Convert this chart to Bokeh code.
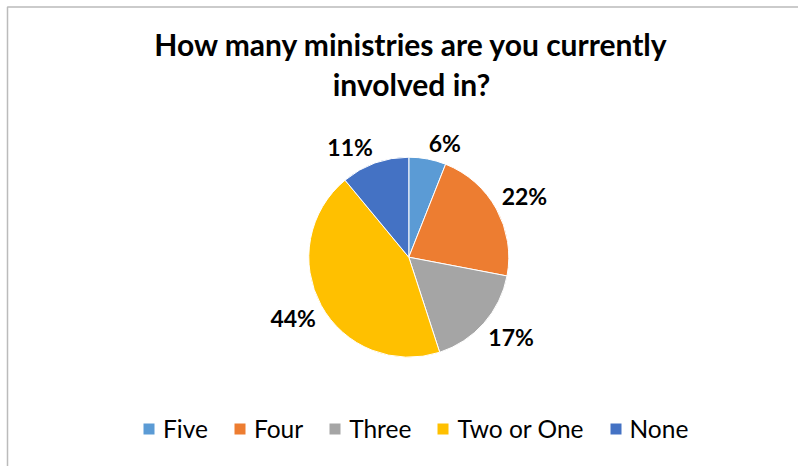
import math
from bokeh.plotting import figure
from bokeh.models import ColumnDataSource, Range1d, Legend, LegendItem
from bokeh.core.properties import value
from bokeh.embed import file_html
from bokeh.resources import INLINE

# ---- data ----
categories = ["Five", "Four", "Three", "Two or One", "None"]
shares = [6, 22, 17, 44, 11]
colors = ["#5B9BD5", "#ED7D31", "#A5A5A5", "#FFC000", "#4472C4"]
title_lines = ["How many ministries are you currently", "involved in?"]

W, H = 798, 466
CX, CY, R = 408.3, H - 256.7, 100.0
FONT = "Lato"

total = float(sum(shares))
starts, ends, mids = [], [], []
acc = 0.0
for v in shares:
    starts.append(acc / total)
    acc += v
    ends.append(acc / total)
    mids.append((starts[-1] + ends[-1]) / 2)

src = ColumnDataSource(dict(
    cat=categories,
    share=shares,
    color=colors,
    start=[math.pi / 2 - f * 2 * math.pi for f in starts],
    end=[math.pi / 2 - f * 2 * math.pi for f in ends],
))

# label positions derived from the slice mid-angles
lx, ly, la, lt = [], [], [], []
for f, v in zip(mids, shares):
    th = f * 2 * math.pi
    s, c = math.sin(th), math.cos(th)
    r = R + 6
    lx.append(CX + r * s)
    ly.append(CY + r * c + (10 if c > 0 else -10))
    la.append("left" if s > 0 else "right")
    lt.append(f"{v}%")
lab = ColumnDataSource(dict(x=lx, y=ly, align=la, text=lt))

p = figure(width=W, height=H, x_range=Range1d(0, W), y_range=Range1d(0, H),
           output_backend="svg", toolbar_location=None,
           x_axis_type=None, y_axis_type=None, min_border=0,
           outline_line_color=None, background_fill_color="white")
p.grid.visible = False

# chart border
p.line(x=[7, 7, W + 5], y=[-5, H - 6.5, H - 6.5], line_color="#BBBBBB", line_width=1.5)

wr = p.wedge(x=CX, y=CY, radius=R, start_angle="start", end_angle="end",
             direction="clock", fill_color="color", line_color="white",
             line_width=1, source=src)

p.text(x="x", y="y", text="text", text_align="align", text_baseline="middle",
       text_font=value(FONT), text_font_style="bold", text_font_size="23px",
       text_color="#000000", source=lab)

# title
p.text(x=[411, 411], y=[H - 43.3, H - 83.3], text=title_lines,
       text_align="center", text_baseline="middle",
       text_font=value(FONT), text_font_style="bold", text_font_size="30px",
       text_color="#000000")

items = [LegendItem(label=cat, renderers=[wr], index=i) for i, cat in enumerate(categories)]
legend = Legend(items=items, orientation="horizontal", location=(141, 23),
                glyph_width=15, glyph_height=15, label_standoff=7, spacing=24,
                padding=0, margin=0, border_line_alpha=0, background_fill_alpha=0,
                label_text_font=FONT, label_text_font_size="24.5px",
                label_text_color="#000000", label_height=15)
p.add_layout(legend, "center")

open("out.html", "w").write(file_html(p, INLINE))
